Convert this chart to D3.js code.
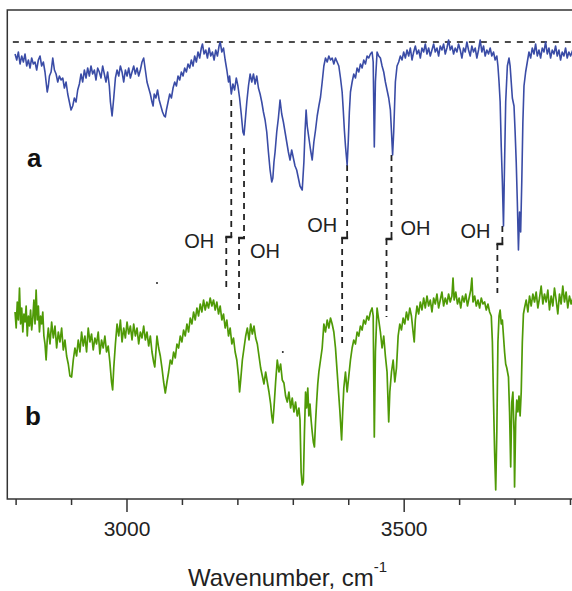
<!DOCTYPE html>
<html>
<head>
<meta charset="utf-8">
<script src="https://cdn.jsdelivr.net/npm/d3@7"></script>
<style>
  body { margin: 0; background: #fff; }
  svg { display: block; font-family: "Liberation Sans", Arial, sans-serif; }
</style>
</head>
<body>
<div id="chart"></div>
<script>
// spectrum a (upper, blue): [wavenumber, relative transmittance]
const traceA = [
  [2799,94],[2802,91],[2805,95],[2808,89],[2811,93],[2814,90],[2817,94],[2820,88],[2823,91],[2826,87],
  [2829,92],[2832,89],[2835,90],[2838,86],[2841,91],[2844,93],[2847,88],[2850,90],[2853,85],[2855,80],
  [2857,75],[2859,78],[2861,83],[2864,85],[2867,92],[2870,86],[2873,84],[2876,80],[2879,83],[2882,81],
  [2885,82],[2888,77],[2891,80],[2894,74],[2897,70],[2900,66],[2903,68],[2906,72],[2909,70],[2912,76],
  [2915,79],[2918,84],[2921,80],[2924,86],[2927,82],[2930,87],[2933,83],[2936,88],[2939,84],[2942,86],
  [2945,81],[2948,87],[2951,85],[2954,82],[2957,88],[2960,84],[2963,80],[2966,85],[2969,78],[2971,70],
  [2974,63],[2977,72],[2980,82],[2983,86],[2986,83],[2989,88],[2992,85],[2995,80],[2998,86],[3001,83],
  [3004,87],[3007,82],[3010,85],[3013,88],[3016,84],[3019,87],[3022,83],[3025,86],[3028,90],[3031,92],
  [3034,86],[3037,80],[3040,77],[3043,74],[3046,70],[3048,68],[3050,74],[3053,72],[3056,76],[3059,71],
  [3062,68],[3065,65],[3068,63],[3070,62.5],[3072,66],[3075,70],[3078,74],[3081,72],[3084,77],[3087,80],
  [3090,78],[3093,83],[3096,81],[3099,85],[3102,83],[3105,87],[3108,85],[3111,89],[3114,87],[3117,91],
  [3120,88],[3123,93],[3126,90],[3129,95],[3132,92],[3135,97],[3137,99],[3140,94],[3143,96],[3146,92],
  [3149,97],[3152,93],[3155,95],[3158,91],[3161,96],[3164,93],[3167,98],[3169,100],[3172,95],[3175,97],
  [3178,91],[3181,86],[3184,80],[3186,83],[3189,74],[3192,79],[3195,76],[3198,82],[3201,78],[3204,72],
  [3207,64],[3210,55],[3212,53.5],[3214,60],[3217,70],[3220,78],[3223,84],[3226,80],[3229,84],[3232,79],
  [3235,83],[3238,77],[3241,74],[3244,70],[3247,65],[3250,61],[3253,55],[3256,45],[3259,36],[3262,30],
  [3264,32],[3266,40],[3268,45],[3271,55],[3274,62],[3277,71],[3280,64],[3283,60],[3286,55],[3289,50],
  [3292,45],[3295,41],[3298,46],[3301,42],[3304,38],[3307,36],[3310,32],[3313,28],[3317,26],[3320,40],
  [3322,55],[3324,66],[3326,58],[3329,52],[3332,46],[3335,41],[3338,50],[3341,56],[3344,63],[3347,68],
  [3350,72.5],[3353,80],[3356,88],[3359,92],[3362,90],[3365,93],[3368,91],[3371,92],[3374,89],[3377,92],
  [3380,90],[3383,88],[3386,82],[3389,75],[3391,66],[3393,56],[3395,48],[3398,38.5],[3400,50],[3402,65],
  [3404,75],[3407,80],[3410,84],[3413,82],[3416,87],[3419,85],[3422,89],[3425,87],[3428,91],[3431,89],
  [3434,93],[3437,92],[3440,94],[3443,95],[3445,90],[3447,47.5],[3449,80],[3452,95],[3455,93],[3458,92],
  [3461,88],[3464,85],[3467,80],[3470,76],[3473,72],[3476,66],[3478,55],[3480,43.5],[3482,55],[3485,80],
  [3488,88],[3491,90],[3494,93],[3497,91],[3500,95],[3503,92],[3506,96],[3509,93],[3512,97],[3515,91],
  [3518,95],[3521,98],[3524,94],[3527,96],[3530,92],[3533,97],[3536,95],[3539,99],[3542,94],[3545,97],
  [3548,93],[3551,96],[3554,99],[3557,95],[3560,97],[3563,93],[3566,98],[3569,96],[3572,99],[3575,94],
  [3578,97],[3581,101],[3584,96],[3587,98],[3590,94],[3593,97],[3596,95],[3599,99],[3602,96],[3605,92],
  [3608,97],[3611,95],[3614,100],[3617,96],[3620,93],[3623,98],[3626,95],[3629,97],[3632,92],[3635,96],
  [3638,101],[3641,95],[3644,98],[3647,93],[3650,96],[3653,94],[3656,97],[3659,93],[3662,95],[3665,91],
  [3668,93],[3670,88],[3672,80],[3674,70],[3676,47.5],[3678,30],[3680,8],[3682,40],[3684,70],[3687,88],
  [3690,92],[3692,88],[3694,80],[3696,72],[3699,68],[3701,55],[3703,40],[3705,20],[3707,-4],[3709,15],
  [3711,5],[3713,30],[3715,60],[3717,78],[3720,85],[3723,90],[3726,95],[3729,92],[3732,97],[3735,94],
  [3738,99],[3741,93],[3744,96],[3747,92],[3750,97],[3753,95],[3756,100],[3759,94],[3762,97],[3765,92],
  [3768,96],[3771,94],[3774,98],[3777,93],[3780,96],[3783,91],[3786,95],[3789,93],[3792,97],[3795,92],
  [3798,95],[3801,93],[3805,96]
];

// spectrum b (lower, green)
const traceB = [
  [2799,90],[2801,82],[2803,95],[2805,86],[2807,102],[2809,84],[2811,92],[2813,80],[2815,89],[2817,85],
  [2819,93],[2821,78],[2823,88],[2825,83],[2827,91],[2829,81],[2831,87],[2833,96],[2835,84],[2837,101],
  [2839,86],[2841,93],[2843,80],[2845,88],[2847,84],[2849,90],[2851,78],[2853,74],[2855,66],[2857,76],
  [2859,82],[2862,74],[2865,85],[2868,77],[2871,83],[2874,72],[2877,80],[2880,75],[2883,82],[2886,71],
  [2889,76],[2892,68],[2895,64],[2898,58],[2901,57.5],[2904,66],[2907,72],[2910,68],[2913,76],[2916,70],
  [2919,80],[2922,73],[2925,78],[2928,70],[2931,82],[2934,75],[2937,79],[2940,71],[2943,77],[2946,74],
  [2949,80],[2952,69],[2955,76],[2958,72],[2961,78],[2964,70],[2967,73],[2970,65],[2973,55],[2975,51],
  [2977,62],[2980,74],[2983,84],[2986,78],[2989,86],[2992,75],[2995,82],[2998,77],[3001,85],[3004,79],
  [3007,83],[3010,76],[3013,84],[3016,78],[3019,82],[3022,74],[3025,80],[3028,77],[3031,83],[3034,76],
  [3037,80],[3040,73],[3043,78],[3046,70],[3049,65],[3051,62.5],[3053,70],[3055,78],[3058,72],[3061,68],
  [3064,62],[3067,55],[3070,49.5],[3073,55],[3076,60],[3079,66],[3082,64],[3085,70],[3088,67],[3091,74],
  [3094,72],[3097,78],[3100,75],[3103,81],[3106,78],[3109,84],[3112,80],[3115,87],[3118,84],[3121,90],
  [3124,86],[3127,92],[3130,88],[3133,94],[3136,90],[3139,96],[3142,91],[3145,95],[3148,92],[3151,97],
  [3154,93],[3157,96],[3160,91],[3163,95],[3166,89],[3169,93],[3172,86],[3175,89],[3178,82],[3181,86],
  [3184,78],[3187,82],[3190,74],[3193,77],[3196,70],[3199,66],[3202,58],[3204,50],[3206,56],[3209,66],
  [3212,72],[3215,78],[3218,82],[3221,76],[3224,84],[3227,79],[3230,83],[3233,77],[3236,74],[3239,68],
  [3242,62],[3245,58],[3248,54],[3251,60],[3254,55],[3257,50],[3260,44],[3262,38],[3264,34.5],[3266,42],
  [3269,55],[3272,66],[3275,60],[3278,64],[3281,56],[3284,54.5],[3287,48],[3290,45],[3293,50],[3296,42],
  [3299,47],[3302,40],[3305,45],[3308,38],[3311,42],[3313,36],[3315,10],[3317,3.5],[3319,5],[3321,30],
  [3323,50],[3325,42],[3327,52],[3329,38],[3331,44],[3333,36],[3335,30],[3337,25],[3339,22.5],[3341,35],
  [3343,45],[3345,54],[3347,60],[3350,66],[3353,72],[3356,84],[3359,80],[3362,86],[3365,82],[3368,87],
  [3371,84],[3374,80],[3377,72],[3380,60],[3383,48],[3385,40],[3388,26],[3390,40],[3392,52],[3395,60],
  [3398,50],[3401,58],[3404,66],[3407,72],[3410,76],[3413,74],[3416,80],[3419,78],[3422,83],[3425,81],
  [3428,86],[3431,84],[3434,88],[3437,86],[3440,90],[3443,92],[3445,88],[3447,27.5],[3449,70],[3452,92],
  [3455,86],[3458,80],[3461,72],[3464,78],[3467,68],[3470,60],[3473,35],[3475,50],[3478,60],[3481,66],
  [3484,55],[3487,62],[3490,78],[3493,84],[3496,81],[3499,87],[3502,84],[3505,90],[3508,86],[3511,92],
  [3514,88],[3517,80],[3519,75],[3521,86],[3524,93],[3527,89],[3530,95],[3533,91],[3536,97],[3539,92],
  [3542,98],[3545,93],[3548,96],[3551,90],[3554,97],[3557,94],[3560,99],[3563,92],[3566,96],[3569,100],
  [3572,93],[3575,97],[3578,94],[3581,99],[3584,95],[3587,98],[3589,107],[3591,96],[3594,100],[3597,94],
  [3600,97],[3603,92],[3606,98],[3609,95],[3612,99],[3615,93],[3618,97],[3621,101],[3623,107],[3625,95],
  [3628,98],[3631,93],[3634,96],[3637,92],[3640,97],[3643,94],[3646,95],[3649,91],[3652,94],[3655,90],
  [3658,88],[3660,75],[3662,46],[3664,20],[3666,1],[3668,30],[3670,75],[3672,88],[3674,91],[3676,84],
  [3678,86],[3680,78],[3682,70],[3684,64],[3686,62],[3689,57.5],[3691,40],[3693,12.5],[3695,45],[3697,50],
  [3699,30],[3700,2.5],[3702,35],[3704,46],[3706,40],[3708,48],[3710,38],[3712,50],[3714,75],[3716,89],
  [3718,92],[3721,96],[3724,90],[3727,98],[3730,93],[3733,99],[3736,95],[3739,100],[3742,92],[3745,97],
  [3748,103],[3751,94],[3754,99],[3757,95],[3760,101],[3763,91],[3766,98],[3769,93],[3772,102],[3775,96],
  [3778,89],[3781,99],[3784,94],[3787,103],[3790,95],[3793,100],[3796,92],[3799,98],[3802,94],[3805,97]
];

// OH bands: position in a, shifted position in b, where the guide lines meet the traces
const ohWnA = [3189, 3212, 3398, 3478, 3678];
const ohWnB = [3180, 3203, 3389, 3469, 3669];
const ohTopA = [71, 47, 38.5, 43.5, 8];
const ohEndB = [102, 91, 73.5, 87.5, 99.5];

// stray dots on trace b panel
const specksB = [[3055, 104.5], [3282, 70]];

const majorTicks = [3000, 3500];
const minorTicks = [2800, 2900, 3100, 3200, 3300, 3400, 3600, 3700, 3800];
const baselineA = 100;

const width = 572, height = 591;
const frameLeft = 7.3, frameTop = 10, frameBottom = 499;

const x = d3.scaleLinear().domain([2785, 3800]).range([frameLeft, 570]);
const yA = d3.scaleLinear().domain([-5, 100]).range([252, 42]);
const yB = d3.scaleLinear().domain([0, 100]).range([492, 292]);

const svg = d3.select("#chart").append("svg")
  .attr("width", width)
  .attr("height", height)
  .attr("viewBox", `0 0 ${width} ${height}`);

// frame: left, top and bottom
svg.append("path")
  .attr("d", `M${width},${frameTop}H${frameLeft}V${frameBottom}H${width}`)
  .attr("fill", "none")
  .attr("stroke", "#333")
  .attr("stroke-width", 1.5);

const minorAxis = d3.axisBottom(x).tickValues(minorTicks).tickSize(6).tickSizeOuter(0).tickFormat("");
const majorAxis = d3.axisBottom(x).tickValues(majorTicks).tickSize(13).tickSizeOuter(0).tickFormat(d3.format("d"));

[minorAxis, majorAxis].forEach(ax => {
  const g = svg.append("g").attr("transform", `translate(0,${frameBottom})`).call(ax);
  g.select(".domain").remove();
  g.selectAll(".tick line").attr("stroke", "#333").attr("stroke-width", 1.5);
  g.selectAll(".tick text")
    .attr("fill", "#222")
    .attr("font-size", 21)
    .attr("font-family", "Liberation Sans, Arial, sans-serif")
    .attr("y", 22);
});

// axis title
const title = svg.append("text")
  .attr("x", 188)
  .attr("y", 586)
  .attr("font-size", 24)
  .attr("fill", "#222")
  .text("Wavenumber, cm");
title.append("tspan")
  .attr("dy", -14)
  .attr("font-size", 15)
  .text("-1");

// reference baseline over trace a
svg.append("line")
  .attr("x1", x(2795)).attr("x2", width)
  .attr("y1", yA(baselineA)).attr("y2", yA(baselineA))
  .attr("stroke", "#111")
  .attr("stroke-width", 1.6)
  .attr("stroke-dasharray", "6,6");

// guide lines for OH bands
const bracketY = [237, 238, 238, 239, 244];
const guide = svg.append("g")
  .attr("stroke", "#222")
  .attr("stroke-width", 1.8)
  .attr("fill", "none");

ohWnA.forEach((wn, i) => {
  const xa = x(wn), xb = x(ohWnB[i]), by = bracketY[i];
  guide.append("line")
    .attr("x1", xa).attr("x2", xa)
    .attr("y1", yA(ohTopA[i])).attr("y2", by)
    .attr("stroke-dasharray", "6,5");
  guide.append("line")
    .attr("x1", xb).attr("x2", xb)
    .attr("y1", by).attr("y2", yB(ohEndB[i]))
    .attr("stroke-dasharray", "6,5");
  guide.append("line")
    .attr("x1", xb - 1).attr("x2", xa + 1)
    .attr("y1", by).attr("y2", by)
    .attr("stroke-width", 2.5);
});

// OH labels: side of bracket, gap and baseline offset
const ohLabels = [
  { side: "left", gap: 12, dy: 11 },
  { side: "right", gap: 6, dy: 20 },
  { side: "left", gap: 5, dy: -6 },
  { side: "right", gap: 9, dy: -4 },
  { side: "left", gap: 7, dy: -6 }
];
ohLabels.forEach((l, i) => {
  const xa = x(ohWnA[i]), xb = x(ohWnB[i]);
  svg.append("text")
    .attr("x", l.side === "left" ? xb - l.gap : xa + l.gap)
    .attr("y", bracketY[i] + l.dy)
    .attr("text-anchor", l.side === "left" ? "end" : "start")
    .attr("font-size", 20)
    .attr("fill", "#222")
    .text("OH");
});

// spectra
const lineA = d3.line().x(d => x(d[0])).y(d => yA(d[1]));
const lineB = d3.line().x(d => x(d[0])).y(d => yB(d[1]));

svg.append("path")
  .datum(traceB)
  .attr("d", lineB)
  .attr("fill", "none")
  .attr("stroke", "#4f9a06")
  .attr("stroke-width", 1.7)
  .attr("stroke-linejoin", "round");

svg.append("path")
  .datum(traceA)
  .attr("d", lineA)
  .attr("fill", "none")
  .attr("stroke", "#3a4ca6")
  .attr("stroke-width", 1.6)
  .attr("stroke-linejoin", "round");

svg.selectAll("circle.speck")
  .data(specksB)
  .join("circle")
  .attr("class", "speck")
  .attr("cx", d => x(d[0]))
  .attr("cy", d => yB(d[1]))
  .attr("r", 1)
  .attr("fill", "#222");

// panel letters
svg.append("text").attr("x", 27).attr("y", 167)
  .attr("font-size", 26).attr("font-weight", "bold").attr("fill", "#111").text("a");
svg.append("text").attr("x", 25).attr("y", 425)
  .attr("font-size", 26).attr("font-weight", "bold").attr("fill", "#111").text("b");
</script>
</body>
</html>
